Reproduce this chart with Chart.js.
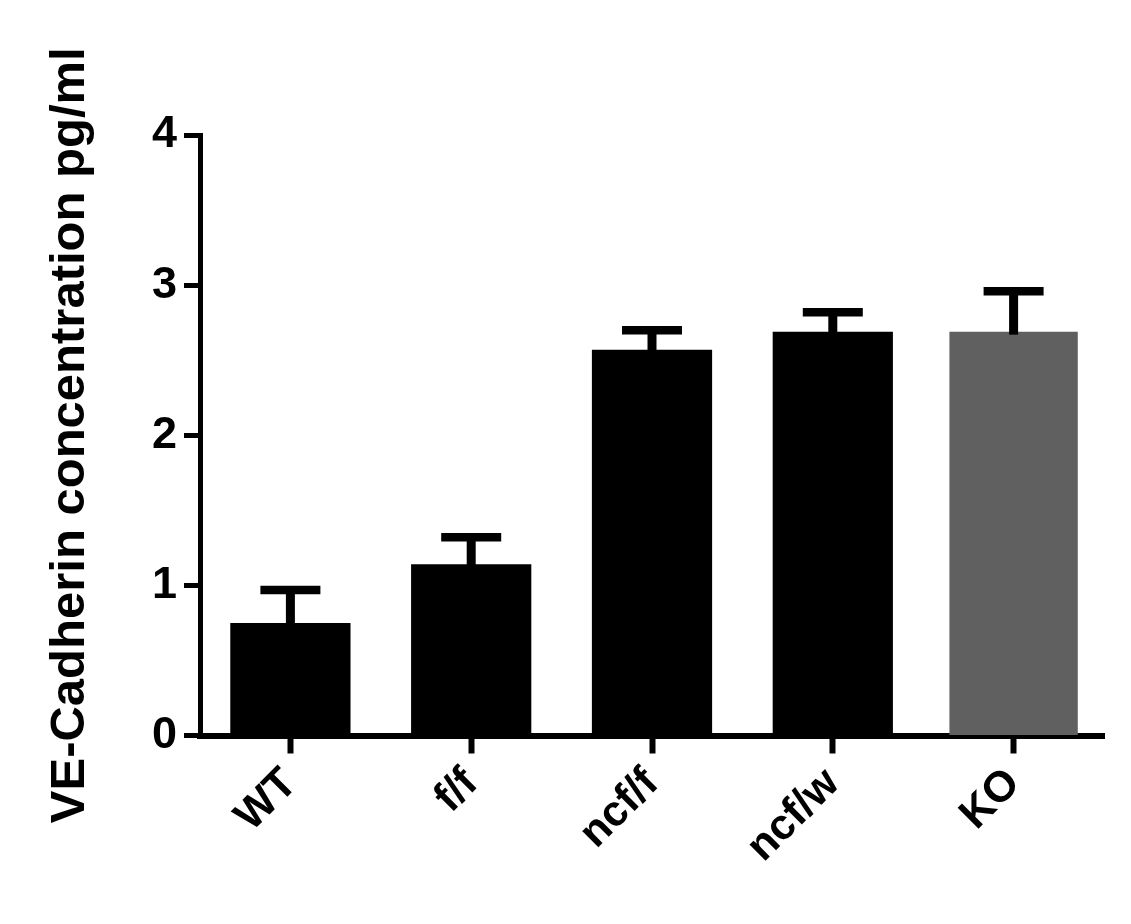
<!DOCTYPE html>
<html>
<head>
<meta charset="utf-8">
<script src="https://cdn.jsdelivr.net/npm/chart.js@4.4.1/dist/chart.umd.min.js"></script>
<style>
  html, body { margin: 0; padding: 0; background: #fff; }
  #wrap { width: 1131px; height: 924px; position: relative; }
</style>
</head>
<body>
<div id="wrap"><canvas id="veChart"></canvas></div>
<script>
// values
var categories = ["WT", "f/f", "ncf/f", "ncf/w", "KO"];
var meanValues = [0.75, 1.14, 2.57, 2.69, 2.69];
var semValues = [0.22, 0.18, 0.13, 0.13, 0.27];
var yTicks = [0, 1, 2, 3, 4];
var koIndex = 4;

var FONT = "'Liberation Sans', Arial, sans-serif";

// black bars for the first four groups, grey for KO
var blackData = meanValues.map(function (v, i) { return i === koIndex ? null : v; });
var greyData = meanValues.map(function (v, i) { return i === koIndex ? v : null; });

// upper error bars (mean + SEM)
var errorBars = {
  id: "errorBars",
  afterDatasetsDraw: function (chart) {
    var ctx = chart.ctx;
    var y = chart.scales.y;
    ctx.save();
    ctx.strokeStyle = "#000";
    ctx.lineCap = "butt";
    for (var i = 0; i < meanValues.length; i++) {
      var meta = chart.getDatasetMeta(i === koIndex ? 1 : 0);
      var bar = meta.data[i];
      if (!bar) continue;
      var x = bar.x;
      var yTop = y.getPixelForValue(meanValues[i] + semValues[i]);
      var yBar = y.getPixelForValue(meanValues[i]);
      ctx.lineWidth = 9;
      ctx.beginPath();
      ctx.moveTo(x, yBar + 3);
      ctx.lineTo(x, yTop);
      ctx.stroke();
      ctx.lineWidth = 8.5;
      ctx.beginPath();
      ctx.moveTo(x - 30, yTop);
      ctx.lineTo(x + 30, yTop);
      ctx.stroke();
    }
    ctx.restore();
  }
};

window.onload = function () {
  var ctx = document.getElementById("veChart").getContext("2d");

  var chart = new Chart(ctx, {
    type: "bar",
    data: {
      labels: categories,
      datasets: [{
        data: blackData,
        backgroundColor: "#000000",
        barPercentage: 0.665,
        categoryPercentage: 1,
        grouped: false
      }, {
        data: greyData,
        backgroundColor: "#606060",
        barPercentage: 0.71,
        categoryPercentage: 1,
        grouped: false
      }]
    },
    options: {
      responsive: true,
      maintainAspectRatio: false,
      animation: false,
      layout: { padding: { top: 135, right: 27, left: 0, bottom: 0 } },
      plugins: {
        legend: { display: false },
        tooltip: { enabled: false }
      },
      scales: {
        x: {
          grid: {
            offset: false,
            drawOnChartArea: false,
            tickLength: 18,
            tickWidth: 6,
            tickColor: "#000",
            color: "#000"
          },
          border: { color: "#000", width: 6 },
          ticks: {
            color: "#000",
            font: { family: FONT, size: 43, weight: "bold" },
            minRotation: 45,
            maxRotation: 45,
            padding: 5,
            autoSkip: false
          },
          afterFit: function (scale) { scale.height = 188.5; }
        },
        y: {
          min: 0,
          max: 4,
          afterBuildTicks: function (scale) {
            scale.ticks = yTicks.map(function (v) { return { value: v }; });
          },
          grid: {
            drawOnChartArea: false,
            tickLength: 16,
            tickWidth: 5,
            tickColor: "#000",
            color: "#000"
          },
          border: { color: "#000", width: 5 },
          ticks: {
            color: "#000",
            font: { family: FONT, size: 45, weight: "bold" },
            padding: 7
          },
          title: {
            display: true,
            text: "VE-Cadherin concentration pg/ml",
            color: "#000",
            font: { family: FONT, size: 49, weight: "bold" },
            padding: { top: 41, bottom: 0 }
          },
          afterFit: function (scale) { scale.width = 200; }
        }
      }
    },
    plugins: [errorBars]
  });
};
</script>
</body>
</html>
